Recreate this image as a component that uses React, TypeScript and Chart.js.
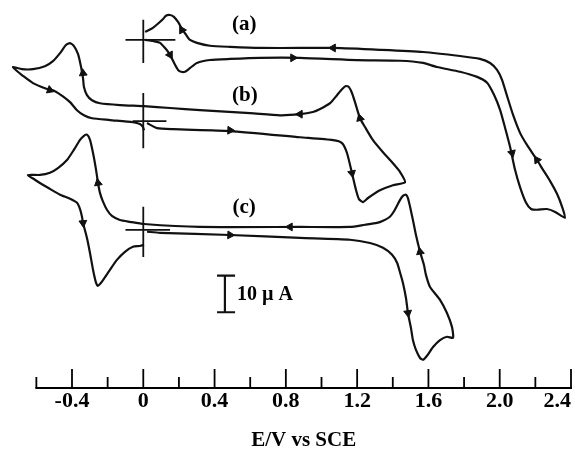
import React, { useEffect, useRef } from 'react';
import { Chart, registerables } from 'chart.js';

Chart.register(...registerables);

const FONT = "'Liberation Serif', 'Times New Roman', serif";

// x axis (E / V vs SCE)
const tickValues = [-0.6, -0.4, -0.2, 0, 0.2, 0.4, 0.6, 0.8, 1.0, 1.2, 1.4, 1.6, 1.8, 2.0, 2.2, 2.4];
const tickLabels = ['', '-0.4', '', '0', '', '0.4', '', '0.8', '', '1.2', '', '1.6', '', '2.0', '', '2.4'];

// Curve (a): potential (V) and current (µA, relative to its own zero)
const potentialA = [
  0.010, 0.054, 0.094, 0.127, 0.150, 0.178, 0.195, 0.212, 0.234, 0.262, 0.301, 0.374, 0.487, 0.655, 0.879, 1.199, 1.441,
  1.570, 1.648, 1.777, 1.873, 1.929, 1.968, 2.002, 2.030, 2.058, 2.086, 2.114, 2.148, 2.176, 2.209, 2.265, 2.311, 2.366,
  2.350, 2.322, 2.282, 2.243, 2.209, 2.153, 2.114, 2.075, 2.041, 2.013, 1.985, 1.946, 1.889, 1.777, 1.570, 1.328, 1.065,
  0.879, 0.655, 0.487, 0.374, 0.301, 0.262, 0.240, 0.217, 0.195, 0.172, 0.150, 0.127, 0.111, 0.082, 0.054, 0.032, 0.010,
];
const currentA = [
  0, -0.3, -0.8, -2.5, -4.1, -6.8, -8.2, -8.7, -8.7, -7.7, -6.3, -5.5, -5.2, -4.9, -4.9, -5.5, -5.7,
  -6.3, -7.4, -8.7, -10.1, -11.7, -15.0, -19.1, -24.0, -29.2, -35.5, -40.2, -44.5, -46.2, -46.4, -46.2, -47.0, -48.6,
  -45.6, -42.1, -38.5, -35.5, -32.8, -28.7, -25.4, -20.5, -15.3, -10.9, -8.2, -6.3, -5.2, -4.4, -3.3, -2.7, -2.2,
  -2.2, -2.2, -1.9, -1.6, -0.8, 0, 1.4, 3.0, 4.9, 6.3, 6.8, 6.6, 5.7, 4.4, 3.3, 2.7, 2.2,
];

// Curve (b)
const potentialB = [
  0.021, 0.077, 0.167, 0.487, 0.879, 1.065, 1.115, 1.143, 1.171, 1.194, 1.210, 1.233, 1.261, 1.328, 1.401, 1.469,
  1.441, 1.401, 1.345, 1.289, 1.244, 1.216, 1.188, 1.171, 1.154, 1.137, 1.115, 1.087, 1.048, 0.992, 0.952, 0.879,
  0.767, 0.599, 0.318, 0.150, 0.004, -0.131, -0.243, -0.288, -0.316, -0.333, -0.338, -0.350, -0.366, -0.389, -0.411,
  -0.434, -0.467, -0.507, -0.552, -0.619, -0.681, -0.731,
  -0.709, -0.681, -0.619, -0.552, -0.496, -0.451, -0.411, -0.372, -0.333, -0.288, -0.187, -0.058, -0.019, -0.002, 0.004,
];
const currentB = [
  -0.5, -1.9, -2.2, -2.7, -4.4, -5.2, -6.0, -8.7, -14.2, -18.9, -21.3, -22.1, -21.0, -18.9, -17.5, -16.7,
  -13.9, -11.5, -8.5, -5.2, -1.6, 0.8, 5.2, 7.7, 9.3, 9.6, 8.7, 7.1, 4.9, 3.3, 2.5, 1.9,
  1.6, 2.2, 3.0, 3.6, 4.1, 4.4, 4.9, 5.7, 7.1, 9.3, 11.7, 15.0, 18.3, 20.5, 21.3,
  20.8, 18.6, 16.4, 15.0, 14.2, 14.2, 14.8,
  13.7, 12.6, 10.4, 9.0, 8.2, 6.8, 5.2, 3.0, 1.6, 0.8, 0.3, -0.3, -0.8, -1.6, -2.5,
];

// Curve (c)
const potentialC = [
  0.021, 0.094, 0.487, 0.879, 1.160, 1.272, 1.345, 1.396, 1.424, 1.441, 1.457, 1.474, 1.485, 1.502, 1.513, 1.530,
  1.553, 1.570, 1.592, 1.626, 1.665, 1.704, 1.738,
  1.732, 1.704, 1.665, 1.609, 1.586, 1.575, 1.553, 1.530, 1.513, 1.497, 1.485, 1.474, 1.457, 1.441, 1.412, 1.384,
  1.345, 1.311, 1.244, 1.160, 0.879, 0.318, 0.004, -0.075, -0.131, -0.176, -0.204, -0.226, -0.243, -0.254, -0.265,
  -0.282, -0.299, -0.316, -0.333, -0.355, -0.389, -0.428, -0.479, -0.524, -0.580, -0.647,
  -0.608, -0.580, -0.524, -0.467, -0.411, -0.372, -0.355, -0.344, -0.338, -0.316, -0.299, -0.282, -0.265, -0.254,
  -0.243, -0.226, -0.187, -0.148, -0.103, -0.058, -0.019, 0.004,
];
const currentC = [
  -0.5, -0.8, -1.4, -2.2, -2.7, -3.6, -4.9, -6.8, -9.0, -11.7, -14.5, -18.6, -22.7, -26.8, -30.1, -32.8,
  -35.0, -35.5, -34.4, -32.0, -30.1, -29.2, -29.5,
  -26.5, -22.7, -19.1, -15.6, -12.3, -9.6, -6.0, -1.4, 2.7, 6.3, 8.7, 9.6, 9.3, 8.2, 5.5, 3.6,
  2.5, 1.9, 1.4, 0.8, 0.8, 0.8, 1.6, 2.2, 2.7, 3.8, 5.5, 7.7, 10.1, 12.8, 16.4,
  21.0, 24.6, 26.0, 25.7, 24.6, 21.9, 19.1, 16.9, 15.6, 15.0, 15.0,
  13.7, 12.8, 11.2, 9.6, 8.5, 7.4, 5.7, 3.6, 1.9, -2.2, -6.3, -10.9, -14.5, -15.3,
  -14.8, -13.7, -10.9, -8.2, -6.0, -4.6, -4.4, -4.1,
];

// Vertical offsets (µA) of the three traces, labels
const curveOffsets = [-10.9, -33.1, -62.8];
const curveLabels = ['(a)', '(b)', '(c)'];
const labelPotential = [0.566, 0.570, 0.566];
const labelCurrent = [4.1, 7.1, 6.2];

// zero-point crosshairs: horizontal extent (V), vertical extent (µA)
const crossPotential = [[-0.10, 0.18], [-0.06, 0.13], [-0.10, 0.15]];
const crossCurrent = [[5.5, -6.3], [7.7, -7.4], [6.3, -7.4]];

// scan-direction arrows (potential, current, direction in degrees)
const arrowPotentialA = [0.150, 0.217, 1.065, 0.840, 2.069, 2.209];
const arrowCurrentA = [-4.1, 2.7, -2.2, -4.9, -30.9, -32.8];
const arrowAngleA = [150, 330, 270, 90, 166, 326];
const arrowPotentialB = [-0.524, 0.487, 1.171, 1.216, 0.879, -0.338];
const arrowCurrentB = [8.5, -2.5, -14.2, 0.8, 1.9, 13.1];
const arrowAngleB = [110, 92, 169, 345, 270, 354];
const arrowPotentialC = [0.487, 1.485, 1.553, 0.823, -0.254, -0.338];
const arrowCurrentC = [-1.4, -22.7, -6.0, 0.8, 12.8, 1.9];
const arrowAngleC = [92, 172, 349, 270, 350, 175];

// 10 µA scale bar
const scaleBarPotential = 0.458;
const scaleBarCap = [0.414, 0.515];
const scaleBarTop = -75.3;
const scaleBarSpan = 10;
const scaleBarText = '10 µ A';
const axisTitle = 'E/V vs SCE';

function curve(pot: number[], cur: number[], off: number) {
  return pot.map((v, i) => ({ x: v, y: cur[i] + off }));
}

function cross(k: number) {
  const off = curveOffsets[k];
  return [
    { x: crossPotential[k][0], y: off },
    { x: crossPotential[k][1], y: off },
    { x: 0, y: null },
    { x: 0, y: off + crossCurrent[k][0] },
    { x: 0, y: off + crossCurrent[k][1] },
  ];
}

const overlay = {
  id: 'overlay',
  afterDraw(chart: any) {
    const { ctx, chartArea, scales } = chart;
    const x = scales.x;
    const y = scales.y;
    ctx.save();
    ctx.strokeStyle = '#000';
    ctx.fillStyle = '#000';
    const yb = chartArea.bottom;
    // axis line
    ctx.lineWidth = 2;
    ctx.beginPath();
    ctx.moveTo(x.getPixelForValue(tickValues[0]) - 1, yb);
    ctx.lineTo(x.getPixelForValue(tickValues[tickValues.length - 1]) + 1, yb);
    ctx.stroke();
    // tick marks pointing up
    ctx.lineWidth = 1.8;
    tickValues.forEach((v, i) => {
      const px = x.getPixelForValue(v);
      const len = tickLabels[i] ? 19 : 11;
      ctx.beginPath();
      ctx.moveTo(px, yb);
      ctx.lineTo(px, yb - len);
      ctx.stroke();
    });
    // curve labels
    ctx.font = `bold 21px ${FONT}`;
    ctx.textAlign = 'center';
    ctx.textBaseline = 'middle';
    curveLabels.forEach((t, k) => {
      ctx.fillText(t, x.getPixelForValue(labelPotential[k]), y.getPixelForValue(curveOffsets[k] + labelCurrent[k]));
    });
    // scale bar text
    ctx.font = `bold 20px ${FONT}`;
    ctx.textAlign = 'left';
    ctx.fillText(scaleBarText, x.getPixelForValue(scaleBarCap[1]) + 2, y.getPixelForValue(scaleBarTop - scaleBarSpan / 2) + 1);
    // axis title
    ctx.font = `bold 21px ${FONT}`;
    ctx.textAlign = 'center';
    ctx.fillText(axisTitle, x.getPixelForValue(0.9), yb + 53);
    ctx.restore();
  },
};

export default function App() {
  const ref = useRef<HTMLCanvasElement>(null);
  useEffect(() => {
    const lineStyle = {
      showLine: true,
      borderColor: '#111',
      borderWidth: 2.2,
      pointRadius: 0,
      tension: 0.2,
      fill: false,
    };
    const crossStyle = {
      showLine: true,
      borderColor: '#111',
      borderWidth: 1.8,
      pointRadius: 0,
      tension: 0,
      spanGaps: false,
      fill: false,
    };
    const arrowStyle = (rot: number[]) => ({
      showLine: false,
      pointStyle: 'triangle',
      pointRadius: 4.5,
      pointRotation: rot,
      backgroundColor: '#111',
      borderColor: '#111',
      borderWidth: 1,
    });
    const arrows = (p: number[], c: number[], off: number) => p.map((v, i) => ({ x: v, y: c[i] + off }));
    const bar = [
      { x: scaleBarCap[0], y: scaleBarTop },
      { x: scaleBarCap[1], y: scaleBarTop },
      { x: scaleBarPotential, y: null },
      { x: scaleBarPotential, y: scaleBarTop },
      { x: scaleBarPotential, y: scaleBarTop - scaleBarSpan },
      { x: scaleBarPotential, y: null },
      { x: scaleBarCap[0], y: scaleBarTop - scaleBarSpan },
      { x: scaleBarCap[1], y: scaleBarTop - scaleBarSpan },
    ];
    const chart = new Chart(ref.current as HTMLCanvasElement, {
      type: 'scatter',
      data: {
        datasets: [
          { data: curve(potentialA, currentA, curveOffsets[0]), ...lineStyle },
          { data: curve(potentialB, currentB, curveOffsets[1]), ...lineStyle },
          { data: curve(potentialC, currentC, curveOffsets[2]), ...lineStyle },
          { data: cross(0), ...crossStyle },
          { data: cross(1), ...crossStyle },
          { data: cross(2), ...crossStyle },
          { data: bar, ...crossStyle, borderWidth: 2.2 },
          { data: arrows(arrowPotentialA, arrowCurrentA, curveOffsets[0]), ...arrowStyle(arrowAngleA) },
          { data: arrows(arrowPotentialB, arrowCurrentB, curveOffsets[1]), ...arrowStyle(arrowAngleB) },
          { data: arrows(arrowPotentialC, arrowCurrentC, curveOffsets[2]), ...arrowStyle(arrowAngleC) },
        ] as any,
      },
      options: {
        responsive: false,
        animation: false,
        events: [],
        layout: { padding: { left: 0, right: 4, top: 0, bottom: 0 }, autoPadding: false } as any,
        plugins: { legend: { display: false }, tooltip: { enabled: false } },
        scales: {
          x: {
            type: 'linear',
            min: -0.804,
            max: 2.4,
            grid: { display: false, drawTicks: false },
            border: { display: false },
            afterBuildTicks: (s: any) => {
              s.ticks = tickValues.map((value) => ({ value }));
            },
            afterFit: (s: any) => {
              s.height = 70;
            },
            ticks: {
              autoSkip: false,
              maxRotation: 0,
              minRotation: 0,
              align: 'inner',
              padding: 0,
              color: '#000',
              font: { family: FONT, size: 22, weight: 'bold' },
              callback: (_v: any, idx: number) => tickLabels[idx] ?? '',
            },
          } as any,
          y: { type: 'linear', display: false, min: -106, max: 0 },
        },
      },
      plugins: [overlay],
    });
    return () => chart.destroy();
  }, []);
  return (
    <div style={{ position: 'absolute', left: 0, top: 0, width: 575, height: 458, background: '#fff' }}>
      <canvas ref={ref} width={575} height={458} style={{ display: 'block', width: 575, height: 458 }} />
    </div>
  );
}
